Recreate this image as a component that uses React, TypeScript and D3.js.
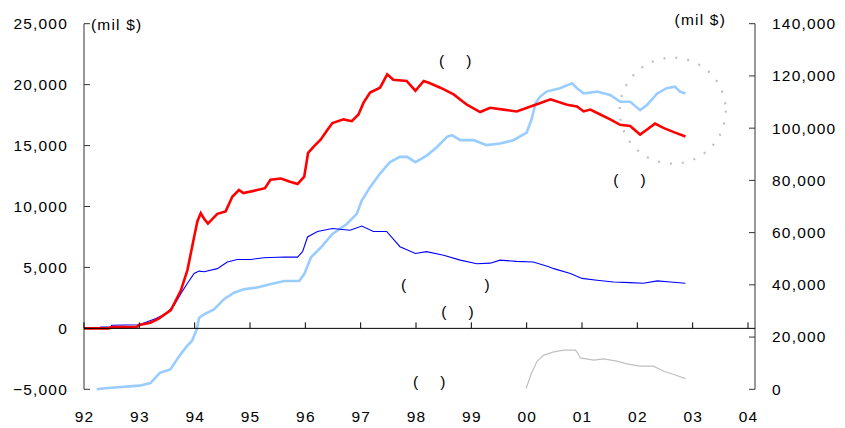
import React from "react";
import * as d3 from "d3";

// ---- data (years as 92..104 where 100 = 2000) ----
const xTickLabels = ["92", "93", "94", "95", "96", "97", "98", "99", "00", "01", "02", "03", "04"];
const leftTicks = [-5000, 0, 5000, 10000, 15000, 20000, 25000];
const rightTicks = [0, 20000, 40000, 60000, 80000, 100000, 120000, 140000];

// red (left axis)
const redX = [92.0, 92.45, 92.5, 92.95, 93.0, 93.2, 93.35, 93.57, 93.75, 93.87, 93.99, 94.05, 94.11, 94.17, 94.24, 94.41, 94.56, 94.68, 94.8, 94.88, 95.13, 95.27, 95.37, 95.56, 95.71, 95.86, 95.98, 96.05, 96.16, 96.28, 96.4, 96.49, 96.69, 96.84, 96.96, 97.05, 97.17, 97.35, 97.48, 97.59, 97.83, 97.99, 98.14, 98.23, 98.44, 98.68, 98.92, 99.16, 99.34, 99.58, 99.82, 100.07, 100.25, 100.43, 100.73, 100.91, 101.03, 101.15, 101.33, 101.51, 101.69, 101.87, 102.05, 102.17, 102.32, 102.47, 102.66, 102.87];
const redV = [0, 0, 100, 120, 270, 460, 800, 1500, 3100, 4800, 7500, 8800, 9450, 9000, 8600, 9400, 9600, 10800, 11350, 11100, 11350, 11500, 12200, 12300, 12050, 11850, 12450, 14400, 14950, 15500, 16300, 16850, 17150, 17000, 17550, 18500, 19350, 19750, 20850, 20400, 20300, 19500, 20300, 20150, 19750, 19200, 18350, 17750, 18100, 17950, 17800, 18200, 18500, 18800, 18350, 18200, 17800, 17950, 17550, 17150, 16700, 16600, 15900, 16300, 16800, 16450, 16100, 15750];

// dark blue (left axis)
const blueX = [92.0, 92.28, 92.3, 92.48, 92.5, 93.0, 93.3, 93.48, 93.63, 93.75, 93.87, 93.99, 94.08, 94.17, 94.41, 94.59, 94.77, 95.01, 95.25, 95.62, 95.86, 95.95, 96.04, 96.22, 96.49, 96.81, 97.02, 97.23, 97.47, 97.71, 97.99, 98.19, 98.5, 98.8, 99.1, 99.34, 99.52, 99.82, 100.12, 100.4, 100.49, 100.79, 101.0, 101.27, 101.57, 101.87, 102.11, 102.36, 102.6, 102.87];
const blueV = [0, 0, 100, 100, 250, 300, 800, 1200, 1900, 2850, 3700, 4500, 4700, 4650, 4900, 5450, 5650, 5650, 5800, 5850, 5850, 6300, 7500, 7950, 8200, 8050, 8400, 7950, 7950, 6700, 6150, 6300, 6000, 5600, 5300, 5350, 5600, 5500, 5450, 5050, 4900, 4500, 4100, 3950, 3800, 3750, 3700, 3900, 3800, 3700];

// light blue (right axis)
const lightX = [92.23, 92.38, 93.0, 93.2, 93.37, 93.56, 93.74, 93.86, 93.95, 94.04, 94.08, 94.17, 94.35, 94.53, 94.71, 94.89, 95.13, 95.38, 95.62, 95.89, 95.98, 96.1, 96.28, 96.49, 96.75, 96.93, 97.02, 97.17, 97.35, 97.53, 97.71, 97.84, 97.99, 98.2, 98.38, 98.56, 98.65, 98.8, 99.04, 99.28, 99.52, 99.76, 100.0, 100.09, 100.16, 100.24, 100.36, 100.6, 100.82, 100.91, 101.03, 101.27, 101.51, 101.69, 101.87, 102.05, 102.17, 102.36, 102.53, 102.68, 102.77, 102.87];
const lightV = [0, 400, 1400, 2400, 6300, 7600, 13300, 16500, 18500, 23000, 27400, 28700, 30600, 34500, 37000, 38300, 39000, 40300, 41500, 41500, 44100, 50500, 54300, 59500, 63300, 67200, 72300, 77400, 82600, 87000, 89000, 89000, 87000, 89600, 92800, 96700, 97300, 95400, 95400, 93500, 94100, 95400, 98300, 103500, 109500, 112000, 114000, 115300, 117200, 115300, 113300, 114000, 112700, 110100, 110100, 106900, 108800, 113300, 115300, 115900, 114000, 113300];

// gray (right axis)
const grayX = [99.99, 100.09, 100.19, 100.31, 100.49, 100.67, 100.88, 100.92, 100.97, 101.21, 101.39, 101.63, 101.81, 102.05, 102.29, 102.48, 102.66, 102.87];
const grayV = [300, 6300, 10800, 13100, 14300, 15000, 15000, 14000, 12000, 11150, 11650, 10800, 9750, 8850, 8850, 6900, 5650, 4100];

const sp = (n: number) => "\u00a0".repeat(n);
const annotations = [
  { text: "(" + sp(3) + "\u2009)", x: 98.72, v: 125700 },
  { text: "(" + sp(3) + "\u2009)", x: 101.87, v: 80400 },
  { text: "(" + sp(14) + ")", x: 98.54, v: 40050 },
  { text: "(" + sp(3) + "\u2009)", x: 98.76, v: 29700 },
  { text: "(" + sp(3) + "\u2009)", x: 98.25, v: 2800 },
];

export default function App() {
  const W = 845, H = 428;
  const x = d3.scaleLinear().domain([92, 104]).range([84, 748]);
  const yL = d3.scaleLinear().domain([-5000, 25000]).range([389.3, 23.7]);
  const yR = d3.scaleLinear().domain([0, 140000]).range([389.3, 23.7]);
  const xRightAxis = 755;

  const mk = (xs: number[], vs: number[], y: d3.ScaleLinear<number, number>) =>
    d3.line<number>().x((_, i) => x(xs[i])).y((d) => y(d))(vs) || "";

  const font = { fontFamily: "'Liberation Sans', Arial, sans-serif", fontSize: 15.5, letterSpacing: 1.2, fill: "#000" };
  const axisColor = "#333";

  return (
    <svg width={W} height={H} style={{ position: "absolute", left: 0, top: 0 }}>
      <rect width={W} height={H} fill="#fff" />
      {/* dotted circle */}
      <circle cx={x(102.64)} cy={yR(106700)} r={53} fill="none" stroke="#c0c0c0" strokeWidth={2.2} strokeDasharray="2 10" />

      {/* series */}
      <path d={mk(grayX, grayV, yR)} fill="none" stroke="#c0c0c0" strokeWidth={1.2} />
      <path d={mk(lightX, lightV, yR)} fill="none" stroke="#99ccff" strokeWidth={2.6} />
      <path d={mk(blueX, blueV, yL)} fill="none" stroke="#0000ff" strokeWidth={1.1} />
      <path d={mk(redX, redV, yL)} fill="none" stroke="#ff0000" strokeWidth={2.6} />

      {/* left axis */}
      <line x1={x(92)} x2={x(92)} y1={yL(25000)} y2={yL(-5000)} stroke={axisColor} strokeWidth={1} />
      {leftTicks.map((t) => (
        <g key={"l" + t}>
          <line x1={x(92)} x2={x(92) + 6} y1={yL(t)} y2={yL(t)} stroke={axisColor} />
          <text x={68} y={yL(t)} dy="0.35em" textAnchor="end" style={font}>
            {d3.format(",")(t)}
          </text>
        </g>
      ))}
      <text x={91} y={yL(25000)} dy="0.4em" style={font}>(mil $)</text>

      {/* right axis */}
      <line x1={xRightAxis} x2={xRightAxis} y1={yR(140000)} y2={yR(0)} stroke={axisColor} strokeWidth={1} />
      {rightTicks.map((t) => (
        <g key={"r" + t}>
          <line x1={xRightAxis - 6} x2={xRightAxis} y1={yR(t)} y2={yR(t)} stroke={axisColor} />
          <text x={772} y={yR(t)} dy="0.35em" textAnchor="start" style={font}>
            {d3.format(",")(t)}
          </text>
        </g>
      ))}
      <text x={726} y={20} dy="0.35em" textAnchor="end" style={font}>(mil $)</text>

      {/* x axis at zero */}
      <line x1={x(92)} x2={xRightAxis} y1={yL(0)} y2={yL(0)} stroke="#000" strokeWidth={1} />
      {xTickLabels.map((lab, i) => (
        <g key={"x" + lab}>
          <line x1={x(92 + i)} x2={x(92 + i)} y1={yL(0)} y2={yL(0) - 6} stroke="#000" />
          <text x={x(92 + i) + 0.6} y={421.5} textAnchor="middle" style={font}>
            {lab}
          </text>
        </g>
      ))}

      {/* annotations */}
      {annotations.map((a, i) => (
        <text key={"a" + i} x={x(a.x)} y={yR(a.v)} dy="0.35em" textAnchor="middle" style={font}>
          {a.text}
        </text>
      ))}
    </svg>
  );
}
